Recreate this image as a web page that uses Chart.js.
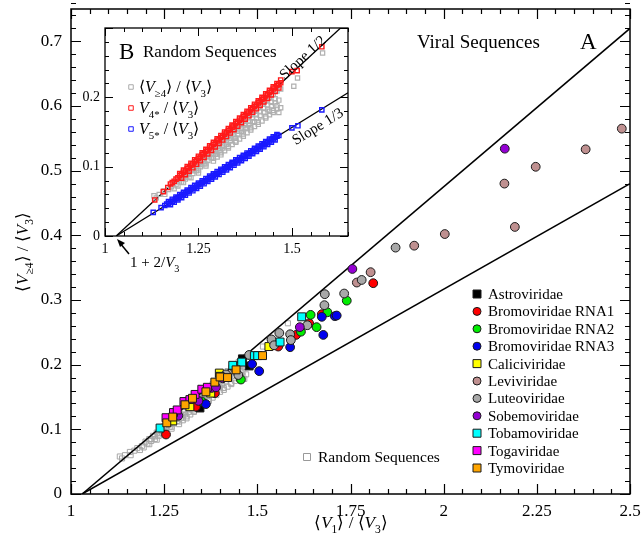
<!DOCTYPE html>
<html>
<head>
<meta charset="utf-8">
<script src="https://cdn.jsdelivr.net/npm/chart.js@4.4.0/dist/chart.umd.min.js"></script>
<style>
  html, body { margin: 0; padding: 0; background: #fff; }
  #wrap { position: relative; width: 642px; height: 546px; }
  #wrap canvas { position: absolute; left: 0; top: 0; }
  #inset { pointer-events: none; }
</style>
</head>
<body>
<div id="wrap">
  <canvas id="mainChart" width="642" height="546"></canvas>
  <canvas id="inset" width="642" height="546"></canvas>
</div>
<script>
// tick labels
const xTicksMain = [1, 1.25, 1.5, 1.75, 2, 2.25, 2.5];
const yTicksMain = [0, 0.1, 0.2, 0.3, 0.4, 0.5, 0.6, 0.7];
const xTicksInset = [1, 1.25, 1.5];
const yTicksInset = [0, 0.1, 0.2];

// reference lines (slope 1/2 and 1/3, starting at 1 + 2/V3)
const mainSlopeHalf = [[1.03, 0], [2.5, 0.72]];
const mainSlopeThird = [[1.03, 0], [2.5, 0.48]];
const insetSlopeHalf = [[1.03, 0], [1.63, 0.3]];
const insetSlopeThird = [[1.03, 0], [1.65, 0.2067]];

// random sequences: <V>=4> / <V3> vs <V1> / <V3>
const randomSeq = [
  [1.131, 0.058], [1.137, 0.055], [1.145, 0.06], [1.158, 0.065], [1.16, 0.06], [1.17, 0.067],
  [1.178, 0.071], [1.185, 0.068], [1.19, 0.074], [1.195, 0.072],
  [1.2, 0.081], [1.205, 0.078], [1.21, 0.085], [1.215, 0.082], [1.22, 0.09], [1.225, 0.085],
  [1.23, 0.095], [1.235, 0.09], [1.24, 0.1], [1.245, 0.094], [1.25, 0.105], [1.255, 0.1],
  [1.26, 0.11], [1.265, 0.104], [1.27, 0.115], [1.275, 0.109], [1.28, 0.12], [1.285, 0.113],
  [1.29, 0.125], [1.295, 0.118], [1.3, 0.13], [1.305, 0.123], [1.31, 0.135], [1.315, 0.127],
  [1.32, 0.14], [1.325, 0.132], [1.33, 0.145], [1.335, 0.137], [1.34, 0.15], [1.345, 0.141],
  [1.35, 0.155], [1.355, 0.147], [1.36, 0.16], [1.365, 0.151], [1.37, 0.165], [1.375, 0.156],
  [1.38, 0.17], [1.385, 0.161], [1.39, 0.175], [1.395, 0.165], [1.4, 0.18], [1.405, 0.17],
  [1.41, 0.185], [1.415, 0.174], [1.42, 0.19], [1.425, 0.179], [1.43, 0.195], [1.435, 0.183],
  [1.44, 0.2], [1.445, 0.188], [1.45, 0.204], [1.455, 0.192], [1.46, 0.209], [1.465, 0.196],
  [1.47, 0.212], [1.47, 0.185],
  [1.215, 0.085], [1.225, 0.089], [1.235, 0.094], [1.245, 0.098], [1.255, 0.103], [1.265, 0.108],
  [1.275, 0.113], [1.285, 0.117], [1.295, 0.122], [1.305, 0.127], [1.315, 0.131], [1.325, 0.136],
  [1.335, 0.141], [1.345, 0.146], [1.355, 0.151], [1.365, 0.155], [1.375, 0.16], [1.385, 0.165],
  [1.395, 0.17], [1.405, 0.175], [1.415, 0.179], [1.425, 0.184], [1.435, 0.189], [1.445, 0.193],
  [1.455, 0.198],
  [1.25, 0.095], [1.27, 0.104], [1.29, 0.112], [1.31, 0.12], [1.33, 0.129], [1.35, 0.137],
  [1.37, 0.147], [1.39, 0.156], [1.41, 0.164], [1.43, 0.172], [1.45, 0.181],
  [1.3, 0.118], [1.35, 0.141], [1.38, 0.155], [1.4, 0.165], [1.44, 0.18], [1.46, 0.188],
  [1.21, 0.077], [1.23, 0.084], [1.25, 0.091], [1.27, 0.101], [1.29, 0.108], [1.3, 0.114],
  [1.31, 0.117], [1.32, 0.123], [1.33, 0.127], [1.34, 0.132], [1.35, 0.135], [1.36, 0.14],
  [1.37, 0.144], [1.38, 0.149], [1.39, 0.153], [1.4, 0.158], [1.41, 0.161], [1.42, 0.166],
  [1.43, 0.17], [1.44, 0.175], [1.45, 0.178], [1.46, 0.183], [1.465, 0.178],
  [1.505, 0.216], [1.515, 0.228], [1.582, 0.264]
];

// random sequences: V4* / <V3>
const randomV4 = [
  [1.133, 0.052], [1.156, 0.064], [1.168, 0.07], [1.175, 0.075], [1.18, 0.077], [1.185, 0.079],
  [1.19, 0.082], [1.195, 0.084], [1.2, 0.087], [1.205, 0.089], [1.21, 0.092], [1.215, 0.094],
  [1.22, 0.097], [1.225, 0.099], [1.23, 0.102], [1.235, 0.104], [1.24, 0.107], [1.245, 0.109],
  [1.25, 0.112], [1.255, 0.114], [1.26, 0.117], [1.265, 0.119], [1.27, 0.122], [1.275, 0.124],
  [1.28, 0.127], [1.285, 0.129], [1.29, 0.132], [1.295, 0.134], [1.3, 0.137], [1.305, 0.139],
  [1.31, 0.142], [1.315, 0.144], [1.32, 0.147], [1.325, 0.149], [1.33, 0.152], [1.335, 0.154],
  [1.34, 0.157], [1.345, 0.159], [1.35, 0.162], [1.355, 0.164], [1.36, 0.167], [1.365, 0.169],
  [1.37, 0.172], [1.375, 0.174], [1.38, 0.177], [1.385, 0.179], [1.39, 0.182], [1.395, 0.184],
  [1.4, 0.187], [1.405, 0.189], [1.41, 0.192], [1.415, 0.194], [1.42, 0.197], [1.425, 0.199],
  [1.43, 0.202], [1.435, 0.204], [1.44, 0.207], [1.445, 0.209], [1.45, 0.212], [1.455, 0.214],
  [1.46, 0.217], [1.465, 0.219], [1.47, 0.221],
  [1.2, 0.09], [1.21, 0.095], [1.22, 0.1], [1.23, 0.105], [1.24, 0.11], [1.25, 0.115],
  [1.26, 0.12], [1.27, 0.125], [1.28, 0.13], [1.29, 0.135], [1.3, 0.14], [1.31, 0.145],
  [1.32, 0.15], [1.33, 0.155], [1.34, 0.16], [1.35, 0.165], [1.36, 0.17], [1.37, 0.175],
  [1.38, 0.18], [1.39, 0.185], [1.4, 0.19], [1.41, 0.195], [1.42, 0.2], [1.43, 0.205],
  [1.44, 0.21], [1.45, 0.215], [1.46, 0.22], [1.47, 0.225],
  [1.205, 0.0835], [1.215, 0.0885], [1.225, 0.0935], [1.235, 0.0985], [1.245, 0.1035],
  [1.255, 0.1085], [1.265, 0.1135], [1.275, 0.1185], [1.285, 0.1235], [1.295, 0.1285],
  [1.305, 0.1335], [1.315, 0.1385], [1.325, 0.1435], [1.335, 0.1485], [1.345, 0.1535],
  [1.355, 0.1585], [1.365, 0.1635], [1.375, 0.1685], [1.385, 0.1735], [1.395, 0.1785],
  [1.405, 0.1835], [1.415, 0.1885], [1.425, 0.1935], [1.435, 0.1985], [1.445, 0.2035],
  [1.455, 0.2085], [1.465, 0.2135],
  [1.5, 0.237], [1.514, 0.2385], [1.58, 0.273]
];

// random sequences: V5* / <V3>
const randomV5 = [
  [1.129, 0.034], [1.15, 0.041], [1.16, 0.044], [1.165, 0.046], [1.17, 0.047], [1.175, 0.049],
  [1.18, 0.05], [1.185, 0.052], [1.19, 0.054], [1.195, 0.055], [1.2, 0.057], [1.205, 0.059],
  [1.21, 0.06], [1.215, 0.062], [1.22, 0.064], [1.225, 0.065], [1.23, 0.067], [1.235, 0.069],
  [1.24, 0.07], [1.245, 0.072], [1.25, 0.074], [1.255, 0.075], [1.26, 0.077], [1.265, 0.079],
  [1.27, 0.08], [1.275, 0.082], [1.28, 0.084], [1.285, 0.085], [1.29, 0.087], [1.295, 0.089],
  [1.3, 0.09], [1.305, 0.092], [1.31, 0.094], [1.315, 0.095], [1.32, 0.097], [1.325, 0.099],
  [1.33, 0.1], [1.335, 0.102], [1.34, 0.104], [1.345, 0.105], [1.35, 0.107], [1.355, 0.109],
  [1.36, 0.11], [1.365, 0.112], [1.37, 0.114], [1.375, 0.115], [1.38, 0.117], [1.385, 0.119],
  [1.39, 0.12], [1.395, 0.122], [1.4, 0.124], [1.405, 0.125], [1.41, 0.127], [1.415, 0.129],
  [1.42, 0.13], [1.425, 0.132], [1.43, 0.134], [1.435, 0.135], [1.44, 0.137], [1.445, 0.139],
  [1.45, 0.14], [1.455, 0.142], [1.46, 0.144], [1.465, 0.145],
  [1.17, 0.0497], [1.18, 0.053], [1.19, 0.0563], [1.2, 0.0597], [1.21, 0.063], [1.22, 0.0663],
  [1.23, 0.0697], [1.24, 0.073], [1.25, 0.0763], [1.26, 0.0797], [1.27, 0.083], [1.28, 0.0863],
  [1.29, 0.0897], [1.3, 0.093], [1.31, 0.0963], [1.32, 0.0997], [1.33, 0.103], [1.34, 0.1063],
  [1.35, 0.1097], [1.36, 0.113], [1.37, 0.1163], [1.38, 0.1197], [1.39, 0.123], [1.4, 0.1263],
  [1.41, 0.1297], [1.42, 0.133], [1.43, 0.1363], [1.44, 0.1397], [1.45, 0.143], [1.46, 0.1463],
  [1.175, 0.0453], [1.185, 0.0487], [1.195, 0.052], [1.205, 0.0553], [1.215, 0.0587],
  [1.225, 0.062], [1.235, 0.0653], [1.245, 0.0687], [1.255, 0.072], [1.265, 0.0753],
  [1.275, 0.0787], [1.285, 0.082], [1.295, 0.0853], [1.305, 0.0887], [1.315, 0.092],
  [1.325, 0.0953], [1.335, 0.0987], [1.345, 0.102], [1.355, 0.1053], [1.365, 0.1087],
  [1.375, 0.112], [1.385, 0.1153], [1.395, 0.1187], [1.405, 0.122], [1.415, 0.1253],
  [1.425, 0.1287], [1.435, 0.132], [1.445, 0.1353], [1.455, 0.1387],
  [1.5, 0.156], [1.516, 0.159], [1.58, 0.182]
];

// viral sequences by family
const astroviridae = [[1.346, 0.133], [1.46, 0.209], [1.478, 0.198]];
const bromoRna1 = [[1.255, 0.092], [1.335, 0.135], [1.386, 0.156], [1.556, 0.228], [1.604, 0.246],
  [1.639, 0.264], [1.673, 0.278], [1.811, 0.326]];
const bromoRna2 = [[1.351, 0.143], [1.456, 0.177], [1.617, 0.251], [1.643, 0.277], [1.659, 0.258],
  [1.688, 0.281], [1.74, 0.299]];
const bromoRna3 = [[1.362, 0.139], [1.486, 0.201], [1.505, 0.19], [1.588, 0.227], [1.673, 0.274],
  [1.677, 0.246], [1.708, 0.275], [1.713, 0.276]];
const caliciviridae = [[1.273, 0.113], [1.319, 0.135], [1.375, 0.156], [1.398, 0.187], [1.531, 0.228]];
const leviviridae = [[1.767, 0.327], [1.804, 0.343], [1.921, 0.384], [2.003, 0.402], [2.163, 0.48],
  [2.191, 0.413], [2.247, 0.506], [2.381, 0.533], [2.478, 0.565]];
const luteoviridae = [[1.416, 0.185], [1.44, 0.194], [1.449, 0.184], [1.478, 0.215], [1.538, 0.239],
  [1.545, 0.23], [1.559, 0.249], [1.588, 0.247], [1.59, 0.238], [1.634, 0.261], [1.68, 0.292],
  [1.681, 0.309], [1.733, 0.31], [1.78, 0.331], [1.871, 0.381]];
const sobemoviridae = [[1.288, 0.121], [1.342, 0.144], [1.377, 0.164], [1.389, 0.165], [1.407, 0.179],
  [1.614, 0.258], [1.755, 0.348], [2.164, 0.534]];
const tobamoviridae = [[1.239, 0.102], [1.4, 0.182], [1.434, 0.199], [1.458, 0.204], [1.492, 0.214],
  [1.501, 0.214], [1.561, 0.235], [1.619, 0.274]];
const togaviridae = [[1.255, 0.118], [1.275, 0.126], [1.285, 0.13], [1.303, 0.143], [1.319, 0.146],
  [1.333, 0.154], [1.351, 0.162], [1.366, 0.165]];
const tymoviridae = [[1.257, 0.11], [1.273, 0.119], [1.306, 0.138], [1.326, 0.148], [1.362, 0.158],
  [1.386, 0.173], [1.4, 0.181], [1.42, 0.18], [1.443, 0.192], [1.514, 0.214]];

const families = [
  { label: 'Astroviridae', data: astroviridae, color: '#000000', shape: 'rect' },
  { label: 'Bromoviridae RNA1', data: bromoRna1, color: '#ff0000', shape: 'circle' },
  { label: 'Bromoviridae RNA2', data: bromoRna2, color: '#00ee00', shape: 'circle' },
  { label: 'Bromoviridae RNA3', data: bromoRna3, color: '#0000ee', shape: 'circle' },
  { label: 'Caliciviridae', data: caliciviridae, color: '#ffff00', shape: 'rect' },
  { label: 'Leviviridae', data: leviviridae, color: '#bf9090', shape: 'circle' },
  { label: 'Luteoviridae', data: luteoviridae, color: '#a8a8a8', shape: 'circle' },
  { label: 'Sobemoviridae', data: sobemoviridae, color: '#9400d3', shape: 'circle' },
  { label: 'Tobamoviridae', data: tobamoviridae, color: '#00ffff', shape: 'rect' },
  { label: 'Togaviridae', data: togaviridae, color: '#ff00ff', shape: 'rect' },
  { label: 'Tymoviridae', data: tymoviridae, color: '#ffa500', shape: 'rect' }
];

const FONT = '"Liberation Serif", "Times New Roman", serif';

// text with italic / subscript parts, y is the baseline
function richText(ctx, parts, x, y, size, align) {
  const fontFor = k => (k.indexOf('i') >= 0 ? 'italic ' : '') +
    (k.indexOf('s') >= 0 ? size * 0.68 : size) + 'px ' + FONT;
  let w = 0;
  parts.forEach(p => { ctx.font = fontFor(p[1]); w += ctx.measureText(p[0]).width; });
  let cx = align === 'center' ? x - w / 2 : x;
  ctx.textAlign = 'left';
  ctx.textBaseline = 'alphabetic';
  parts.forEach(p => {
    ctx.font = fontFor(p[1]);
    ctx.fillText(p[0], cx, y + (p[1].indexOf('s') >= 0 ? size * 0.3 : 0));
    cx += ctx.measureText(p[0]).width;
  });
}

function drawMarker(ctx, shape, x, y, size, fill, stroke) {
  ctx.beginPath();
  if (shape === 'circle') ctx.arc(x, y, size / 2, 0, Math.PI * 2);
  else ctx.rect(x - size / 2, y - size / 2, size, size);
  if (fill) { ctx.fillStyle = fill; ctx.fill(); }
  ctx.lineWidth = 1;
  ctx.strokeStyle = stroke;
  ctx.stroke();
}

// frame with inward ticks on all four sides
const framePlugin = {
  id: 'frame',
  beforeDatasetsDraw(chart, args, opts) {
    if (!opts.fill) return;
    const a = chart.chartArea;
    chart.ctx.save();
    chart.ctx.fillStyle = '#fff';
    chart.ctx.fillRect(a.left, a.top, a.right - a.left, a.bottom - a.top);
    chart.ctx.restore();
  },
  afterDatasetsDraw(chart, args, opts) {
    const { ctx, chartArea: a } = chart;
    const xs = chart.scales.x, ys = chart.scales.y;
    ctx.save();
    ctx.strokeStyle = '#000';
    ctx.lineWidth = opts.tickWidth;
    ctx.beginPath();
    const nx = Math.round((xs.max - xs.min) / opts.xMinor);
    for (let i = 0; i <= nx; i++) {
      const v = xs.min + i * opts.xMinor;
      const r = v / opts.xMajor;
      const len = Math.abs(r - Math.round(r)) < 1e-6 ? opts.majLen : opts.minLen;
      const p = Math.round(xs.getPixelForValue(v)) + 0.5;
      ctx.moveTo(p, a.bottom); ctx.lineTo(p, a.bottom - len);
      ctx.moveTo(p, a.top); ctx.lineTo(p, a.top + len);
    }
    const ny = Math.round((ys.max - ys.min) / opts.yMinor);
    for (let i = 0; i <= ny; i++) {
      const v = ys.min + i * opts.yMinor;
      const r = v / opts.yMajor;
      const len = Math.abs(r - Math.round(r)) < 1e-6 ? opts.majLen : opts.minLen;
      const p = Math.round(ys.getPixelForValue(v)) + 0.5;
      ctx.moveTo(a.left, p); ctx.lineTo(a.left + len, p);
      ctx.moveTo(a.right, p); ctx.lineTo(a.right - len, p);
    }
    ctx.stroke();
    ctx.lineWidth = opts.frameWidth;
    ctx.strokeRect(a.left, a.top, a.right - a.left, a.bottom - a.top);
    ctx.restore();
    if (opts.annotate) opts.annotate(ctx, a);
  }
};

function scaleX(min, max, ticks, size, pad, height) {
  return {
    type: 'linear', min: min, max: max,
    grid: { display: false, drawTicks: false },
    border: { display: false },
    ticks: { color: '#000', font: { family: FONT, size: size }, padding: pad,
      autoSkip: false, maxRotation: 0, callback: v => String(v) },
    afterBuildTicks: s => { s.ticks = ticks.map(v => ({ value: v })); },
    afterFit: s => { s.height = height; s.paddingLeft = 0; s.paddingRight = 0; }
  };
}

function scaleY(min, max, ticks, size, pad, width) {
  return {
    type: 'linear', min: min, max: max,
    grid: { display: false, drawTicks: false },
    border: { display: false },
    ticks: { color: '#000', font: { family: FONT, size: size }, padding: pad,
      autoSkip: false, callback: v => String(v) },
    afterBuildTicks: s => { s.ticks = ticks.map(v => ({ value: v })); },
    afterFit: s => { s.width = width; s.paddingTop = 0; s.paddingBottom = 0; }
  };
}

// ---------- main chart (A) ----------
const mainSets = [
  { data: randomSeq, pointStyle: 'rect', pointRadius: 3.6, backgroundColor: 'rgba(0,0,0,0)',
    borderColor: '#a8a8a8', pointBorderWidth: 1, order: 40 },
  { data: mainSlopeHalf, showLine: true, borderColor: '#000', borderWidth: 1.5, pointRadius: 0, order: 30 },
  { data: mainSlopeThird, showLine: true, borderColor: '#000', borderWidth: 1.5, pointRadius: 0, order: 30 }
];
families.forEach((f, i) => {
  mainSets.push({
    data: f.data, pointStyle: f.shape, pointRadius: f.shape === 'rect' ? 5.6 : 4.4,
    backgroundColor: f.color, borderColor: '#1a1a1a', pointBorderWidth: 1, order: 20 - i
  });
});

new Chart(document.getElementById('mainChart'), {
  type: 'scatter',
  data: { datasets: mainSets },
  options: {
    responsive: false, animation: false, devicePixelRatio: 1, events: [],
    layout: { padding: { top: 9, right: 12, left: 0, bottom: 0 } },
    scales: {
      x: scaleX(1, 2.5, xTicksMain, 17, 7, 52),
      y: scaleY(0, 0.75, yTicksMain, 17, 9, 71)
    },
    plugins: {
      legend: { display: false }, tooltip: { enabled: false },
      frame: {
        xMinor: 0.05, xMajor: 0.25, yMinor: 0.02, yMajor: 0.1,
        majLen: 10, minLen: 5, tickWidth: 1.2, frameWidth: 1.5,
        annotate: (ctx) => {
          ctx.save();
          ctx.fillStyle = '#000';
          // axis titles
          richText(ctx, [['\u27E8', ''], ['V', 'i'], ['1', 's'], ['\u27E9 / \u27E8', ''], ['V', 'i'], ['3', 's'], ['\u27E9', '']],
            351, 528, 17, 'center');
          ctx.save();
          ctx.translate(22, 252);
          ctx.rotate(-Math.PI / 2);
          richText(ctx, [['\u27E8', ''], ['V', 'i'], ['\u22654', 's'], ['\u27E9 / \u27E8', ''], ['V', 'i'], ['3', 's'], ['\u27E9', '']],
            0, 6, 17, 'center');
          ctx.restore();
          // headings
          ctx.textAlign = 'left';
          ctx.textBaseline = 'middle';
          ctx.font = '19px ' + FONT;
          ctx.fillText('Viral Sequences', 417, 43);
          ctx.font = '23px ' + FONT;
          ctx.fillText('A', 580, 43);
          // family legend
          families.forEach((f, i) => {
            const y = 294 + i * 17.4;
            drawMarker(ctx, f.shape, 477, y, 8, f.color, '#1a1a1a');
            ctx.fillStyle = '#000';
            ctx.font = '15px ' + FONT;
            ctx.textBaseline = 'middle';
            ctx.fillText(f.label, 488, y + 1);
          });
          drawMarker(ctx, 'rect', 307, 457, 7, null, '#999');
          ctx.fillStyle = '#000';
          ctx.font = '15.5px ' + FONT;
          ctx.fillText('Random Sequences', 318, 458);
          ctx.restore();
        }
      }
    }
  },
  plugins: [framePlugin]
});

// ---------- inset chart (B) ----------
new Chart(document.getElementById('inset'), {
  type: 'scatter',
  data: {
    datasets: [
      { data: insetSlopeHalf, showLine: true, borderColor: '#000', borderWidth: 1.3, pointRadius: 0, order: 10 },
      { data: insetSlopeThird, showLine: true, borderColor: '#000', borderWidth: 1.3, pointRadius: 0, order: 10 },
      { data: randomSeq, pointStyle: 'rect', pointRadius: 3, backgroundColor: 'rgba(0,0,0,0)',
        borderColor: '#b0b0b0', pointBorderWidth: 1.2, order: 5 },
      { data: randomV4, pointStyle: 'rect', pointRadius: 3, backgroundColor: 'rgba(0,0,0,0)',
        borderColor: '#ff1a1a', pointBorderWidth: 1.4, order: 2 },
      { data: randomV5, pointStyle: 'rect', pointRadius: 3, backgroundColor: 'rgba(0,0,0,0)',
        borderColor: '#1a1aff', pointBorderWidth: 1.4, order: 1 }
    ]
  },
  options: {
    responsive: false, animation: false, devicePixelRatio: 1, events: [],
    layout: { padding: { top: 28, right: 294, left: 0, bottom: 0 } },
    scales: {
      x: scaleX(1, 1.65, xTicksInset, 14, 5, 310),
      y: scaleY(0, 0.3, yTicksInset, 14, 5, 105)
    },
    plugins: {
      legend: { display: false }, tooltip: { enabled: false },
      frame: {
        fill: true,
        xMinor: 0.05, xMajor: 0.25, yMinor: 0.02, yMajor: 0.1,
        majLen: 8, minLen: 4, tickWidth: 1, frameWidth: 1.3,
        annotate: (ctx) => {
          ctx.save();
          ctx.fillStyle = '#000';
          ctx.textAlign = 'left';
          ctx.textBaseline = 'middle';
          ctx.font = '23px ' + FONT;
          ctx.fillText('B', 119, 53);
          ctx.font = '17px ' + FONT;
          ctx.fillText('Random Sequences', 143, 53);
          // legend
          drawMarker(ctx, 'rect', 131, 87, 4.5, null, '#aaaaaa');
          drawMarker(ctx, 'rect', 131, 108, 4.5, null, '#ff1a1a');
          drawMarker(ctx, 'rect', 131, 129, 4.5, null, '#1a1aff');
          ctx.fillStyle = '#000';
          richText(ctx, [['\u27E8', ''], ['V', 'i'], ['\u22654', 's'], ['\u27E9 / \u27E8', ''], ['V', 'i'], ['3', 's'], ['\u27E9', '']],
            139, 92, 16, 'left');
          richText(ctx, [['V', 'i'], ['4*', 's'], [' / \u27E8', ''], ['V', 'i'], ['3', 's'], ['\u27E9', '']],
            139, 113, 16, 'left');
          richText(ctx, [['V', 'i'], ['5*', 's'], [' / \u27E8', ''], ['V', 'i'], ['3', 's'], ['\u27E9', '']],
            139, 134, 16, 'left');
          // slope labels
          ctx.save();
          ctx.translate(303, 58);
          ctx.rotate(-42.6 * Math.PI / 180);
          ctx.font = '15px ' + FONT;
          ctx.textAlign = 'center';
          ctx.textBaseline = 'middle';
          ctx.fillText('Slope 1/2', 0, 0);
          ctx.restore();
          ctx.save();
          ctx.translate(318, 127);
          ctx.rotate(-31.5 * Math.PI / 180);
          ctx.font = '15px ' + FONT;
          ctx.textAlign = 'center';
          ctx.textBaseline = 'middle';
          ctx.fillText('Slope 1/3', 0, 0);
          ctx.restore();
          // 1 + 2/V3 with arrow
          richText(ctx, [['1 + 2/', ''], ['V', 'i'], ['3', 's']], 130, 267, 15, 'left');
          ctx.strokeStyle = '#000';
          ctx.lineWidth = 1.5;
          ctx.beginPath();
          ctx.moveTo(129, 254);
          ctx.lineTo(120, 243);
          ctx.stroke();
          ctx.beginPath();
          ctx.moveTo(117, 239);
          ctx.lineTo(125, 243);
          ctx.lineTo(120, 247);
          ctx.closePath();
          ctx.fill();
          ctx.restore();
        }
      }
    }
  },
  plugins: [framePlugin]
});
</script>
</body>
</html>
